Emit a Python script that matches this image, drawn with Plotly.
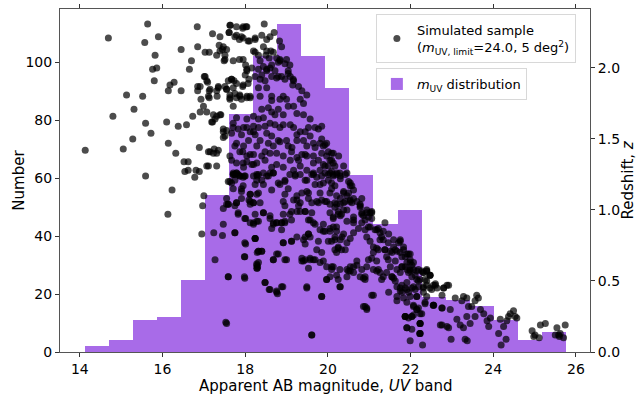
import plotly.graph_objects as go

PURPLE = "#a86be8"
FONT = "DejaVu Sans"

# histogram of apparent UV magnitude (bin edges and counts)
bin_edges = [14.12, 14.70, 15.28, 15.87, 16.45, 17.03, 17.61, 18.19, 18.78, 19.36, 19.94,
             20.52, 21.10, 21.69, 22.27, 22.85, 23.43, 24.01, 24.60, 25.18, 25.76]
bin_counts = [2, 4, 11, 12, 25, 54, 82, 102, 113, 102, 91, 61, 44, 49, 19, 18, 16, 11, 4, 7]

# simulated sample, (magnitude, redshift), estimated by region of the plot
bright_pts = [
    (15.64, 2.31), (14.69, 2.21), (15.57, 2.18), (15.90, 2.22), (16.84, 2.29), (16.45, 2.13),
    (16.85, 2.15), (17.21, 2.24), (17.39, 2.22), (17.64, 2.30), (17.61, 2.25), (17.94, 2.28),
    (18.02, 2.29), (17.79, 2.23), (17.91, 2.22), (18.07, 2.19), (18.24, 2.21), (17.47, 2.15),
    (17.39, 2.12), (17.55, 2.13), (17.31, 2.09), (17.51, 2.06), (17.49, 2.05), (17.03, 2.11),
    (17.13, 2.11), (15.82, 2.09), (16.70, 2.05), (15.76, 1.99), (15.86, 2.00), (16.65, 1.99),
    (15.80, 1.91), (16.18, 1.88), (16.28, 1.90), (16.14, 1.84), (16.45, 1.84), (16.85, 1.87),
    (16.85, 1.84), (17.01, 1.94), (17.09, 1.90), (17.13, 1.84), (17.35, 1.86), (17.13, 1.79),
    (17.32, 1.80), (16.93, 1.78), (17.59, 1.91), (17.67, 1.92), (17.73, 1.91), (17.55, 1.85),
    (17.63, 1.81), (17.75, 1.82), (17.95, 2.06), (18.01, 2.02), (18.04, 1.99), (18.16, 2.00),
    (18.00, 1.95), (18.09, 1.92), (17.95, 1.88), (17.63, 1.78), (17.71, 1.73), (17.91, 1.78),
    (18.04, 1.79), (17.87, 1.81), (18.12, 1.80), (15.13, 1.81), (15.52, 1.80), (15.31, 1.71),
    (14.80, 1.66), (15.59, 1.61), (15.72, 1.54), (15.28, 1.50), (15.05, 1.43), (14.13, 1.42),
    (16.10, 1.62), (16.38, 1.59), (16.58, 1.60), (16.73, 1.66), (16.91, 1.69), (17.21, 1.62),
    (17.31, 1.66), (17.41, 1.67), (17.47, 1.55), (17.55, 1.56), (17.47, 1.51), (16.14, 1.47),
    (16.32, 1.40), (16.89, 1.44), (17.15, 1.41), (17.25, 1.43), (17.31, 1.40), (17.35, 1.42),
    (16.52, 1.34), (16.62, 1.34), (17.11, 1.31), (17.31, 1.31), (16.54, 1.27), (16.62, 1.28),
    (16.81, 1.28), (16.89, 1.27), (15.59, 1.24),
    (17.79, 1.65), (17.71, 1.58), (17.91, 1.53), (18.04, 1.58), (18.20, 1.55), (18.32, 1.58),
    (17.75, 1.45), (17.94, 1.41), (18.04, 1.38), (18.20, 1.39), (17.63, 1.38), (17.79, 1.33),
    (17.95, 1.33), (18.20, 1.32), (17.71, 1.26), (17.83, 1.25), (18.00, 1.24),
]

low_bright_pts = [
    (16.78, 1.23), (16.23, 1.14), (16.13, 0.97), (17.00, 1.10), (16.97, 1.03), (16.95, 0.83),
    (17.24, 0.84), (17.45, 0.82), (17.27, 0.65), (17.59, 0.53), (17.98, 0.53), (17.53, 0.21),
    (17.47, 1.01), (17.47, 0.90), (17.59, 1.20), (17.67, 1.19), (17.71, 1.25), (17.79, 1.26),
    (17.87, 1.24), (17.98, 1.24), (17.75, 1.21), (17.55, 1.04), (17.59, 1.04), (17.75, 1.03),
    (17.79, 1.05), (17.91, 1.08), (17.91, 1.13), (17.95, 1.17), (18.12, 1.11), (18.20, 1.05),
    (18.09, 1.07), (18.28, 1.21), (18.29, 1.24), (17.83, 0.97), (18.01, 0.94), (18.20, 0.90),
    (18.28, 0.92), (17.75, 0.84), (18.01, 0.76), (18.24, 0.80), (17.98, 0.67), (18.29, 0.70),
    (18.28, 0.62), (18.30, 0.60),
]

top_pts = [
    (17.63, 2.30), (17.79, 2.29), (17.95, 2.29), (18.04, 2.29), (18.46, 2.31), (17.61, 2.25),
    (17.75, 2.22), (17.86, 2.20), (17.95, 2.21), (18.10, 2.19), (18.24, 2.20), (18.40, 2.23),
    (18.60, 2.22), (18.52, 2.20), (18.70, 2.25), (17.37, 2.16), (17.45, 2.13), (17.51, 2.09),
    (17.71, 2.05), (17.86, 2.06), (18.20, 2.12), (18.44, 2.15), (18.52, 2.12), (18.62, 2.12),
    (18.68, 2.11), (18.24, 2.11), (18.32, 2.09), (18.50, 2.09), (18.58, 2.07), (18.83, 2.19),
    (18.88, 2.15), (18.84, 2.06), (18.80, 2.04), (19.00, 2.06), (19.08, 2.02), (18.04, 1.98),
    (18.32, 1.99), (18.40, 1.95), (18.52, 1.98), (18.60, 2.00), (18.64, 1.94), (18.76, 1.93),
    (18.88, 1.94), (18.96, 1.92), (19.04, 1.96), (19.16, 1.92), (19.15, 1.88), (17.03, 1.94),
    (17.07, 1.91), (16.91, 1.87), (17.15, 1.85), (17.11, 1.80), (17.31, 1.84), (17.35, 1.87),
    (17.51, 1.87), (17.55, 1.85), (17.67, 1.92), (17.71, 1.86), (17.79, 1.89), (17.94, 1.87),
    (17.87, 1.80), (18.04, 1.80), (18.12, 1.79), (18.07, 1.89), (17.79, 1.79), (17.63, 1.79),
    (16.99, 1.73), (17.07, 1.69), (17.23, 1.67), (17.27, 1.64), (17.19, 1.62), (17.39, 1.67),
    (17.47, 1.57), (17.51, 1.52), (17.11, 1.41), (17.23, 1.40), (17.07, 1.31),
]

peak_pts = [
    (18.36, 2.05), (18.44, 2.01), (18.52, 1.99), (18.64, 2.02), (18.72, 1.98), (18.80, 1.94),
    (18.76, 2.07), (18.84, 2.05), (18.96, 2.03), (19.04, 1.98), (19.09, 1.94), (19.17, 1.91),
    (19.29, 1.87), (19.37, 1.84), (19.49, 1.81), (19.33, 1.78), (19.41, 1.75), (19.00, 1.78),
    (18.92, 1.80), (18.84, 1.78), (18.64, 1.80), (18.64, 1.77), (18.56, 1.72), (18.64, 1.69),
    (18.72, 1.67), (18.80, 1.71), (18.92, 1.67), (19.04, 1.73), (19.17, 1.73), (19.25, 1.68),
    (19.41, 1.67), (19.57, 1.64), (19.69, 1.58), (19.53, 1.58), (19.45, 1.55), (19.33, 1.55),
    (19.25, 1.53), (19.17, 1.58), (19.09, 1.60), (18.92, 1.60), (18.84, 1.58), (18.72, 1.60),
    (18.60, 1.61), (18.44, 1.65), (18.40, 1.71), (18.36, 1.80), (18.32, 1.86), (18.36, 1.92),
    (18.24, 1.94), (18.48, 1.91), (18.52, 1.86), (18.48, 1.59), (18.52, 1.54), (18.64, 1.52),
    (18.56, 1.47), (18.68, 1.45), (18.80, 1.49), (19.00, 1.49), (19.04, 1.45), (19.13, 1.44),
    (19.25, 1.49), (19.41, 1.49), (19.49, 1.45), (19.57, 1.52), (19.65, 1.47), (19.77, 1.57),
    (19.85, 1.59), (19.81, 1.47), (19.89, 1.45), (19.97, 1.47), (19.85, 1.40), (19.97, 1.38),
    (20.09, 1.40), (20.05, 1.35), (20.13, 1.33), (19.89, 1.32), (19.77, 1.35), (19.65, 1.38),
    (19.49, 1.38), (19.37, 1.39), (19.25, 1.37), (19.09, 1.35), (18.92, 1.38), (18.76, 1.40),
    (18.60, 1.40), (18.48, 1.41), (18.40, 1.38), (18.28, 1.33), (18.16, 1.32), (18.04, 1.34),
    (17.96, 1.30), (17.79, 1.26), (17.71, 1.25), (17.67, 1.35), (17.87, 1.41), (17.96, 1.45),
    (18.08, 1.49), (18.12, 1.55), (18.20, 1.59), (18.32, 1.64), (18.20, 1.66), (18.04, 1.64),
    (17.96, 1.58), (17.83, 1.57), (17.71, 1.61), (17.67, 1.54), (17.79, 1.47), (18.28, 1.45),
    (18.36, 1.49), (18.76, 1.32), (18.92, 1.30), (18.60, 1.26), (19.33, 1.31), (19.49, 1.28),
    (19.65, 1.26), (19.81, 1.28), (19.93, 1.26), (20.01, 1.31), (20.22, 1.26), (20.30, 1.24),
    (20.46, 1.26), (20.38, 1.31), (20.26, 1.38),
    (19.85, 1.50), (19.93, 1.46), (20.01, 1.41), (19.69, 1.44), (19.45, 1.39), (19.29, 1.35),
    (19.12, 1.41), (18.84, 1.48), (18.24, 1.53), (18.12, 1.39), (18.48, 1.35), (18.64, 1.30),
    (19.17, 1.28), (19.65, 1.33), (19.93, 1.31), (20.09, 1.27),
]

mid_pts = [
    (17.63, 1.20), (17.75, 1.25), (17.87, 1.24), (17.95, 1.23), (17.71, 1.15), (17.91, 1.15),
    (18.12, 1.11), (18.32, 1.12), (18.28, 1.25), (18.40, 1.21), (18.52, 1.24), (18.68, 1.26),
    (18.84, 1.18), (18.96, 1.21), (19.04, 1.15), (19.21, 1.25), (19.25, 1.07), (19.29, 1.03),
    (19.49, 1.21), (19.53, 1.12), (19.65, 1.25), (19.69, 1.18), (19.81, 1.12), (19.93, 1.06),
    (19.85, 1.24), (20.01, 1.21), (20.09, 1.15), (17.55, 1.08), (17.59, 1.04), (17.79, 1.05),
    (17.83, 0.98), (17.99, 0.94), (18.12, 1.04), (18.20, 0.91), (18.32, 0.92), (18.44, 0.98),
    (18.60, 0.96), (18.68, 0.90), (18.76, 0.91), (18.88, 0.91), (18.96, 0.91), (18.92, 0.97),
    (18.96, 1.03), (19.12, 0.99), (19.33, 0.99), (19.45, 0.99), (19.61, 0.98), (19.53, 0.93),
    (19.65, 0.91), (19.77, 1.05), (19.89, 0.90), (19.93, 0.85), (20.05, 0.85), (19.53, 0.83),
    (19.45, 0.76), (19.25, 0.81), (19.12, 0.78), (18.92, 0.77), (18.80, 0.69), (19.00, 0.65),
    (18.68, 0.65), (18.32, 0.71), (18.40, 0.71), (18.24, 0.80), (17.99, 0.77), (17.75, 0.84),
    (17.99, 0.67), (18.32, 0.63), (18.28, 0.59), (17.59, 0.53), (17.99, 0.52), (18.48, 0.49),
    (18.60, 0.44), (18.76, 0.42), (18.88, 0.46), (19.49, 0.46), (19.85, 0.39), (19.97, 0.51),
    (19.69, 0.65), (19.57, 0.66), (19.45, 0.65), (19.37, 0.64), (19.89, 0.64), (20.09, 0.60),
    (20.09, 0.78), (20.17, 0.72), (17.55, 0.20), (19.61, 0.12),
]

faint_pts = [
    (18.20, 1.24), (18.32, 1.25), (18.44, 1.26), (18.56, 1.24), (18.68, 1.26), (18.24, 1.18),
    (18.44, 1.18), (18.64, 1.14), (18.28, 1.11), (18.12, 1.06), (18.20, 1.05), (18.36, 1.05),
    (18.44, 0.98), (18.24, 0.97), (18.12, 0.91), (18.60, 0.94), (18.68, 0.91), (18.76, 0.91),
    (18.88, 0.91), (18.96, 0.92), (18.64, 0.87), (18.88, 0.86), (18.24, 0.80), (18.92, 0.77),
    (19.12, 0.78), (18.32, 0.71), (18.40, 0.71), (18.76, 0.69), (18.68, 0.65), (18.96, 0.65),
    (18.28, 0.61), (18.29, 0.59), (18.48, 0.49), (18.58, 0.44), (18.76, 0.43), (18.78, 0.41),
    (18.91, 0.46), (18.96, 1.11), (18.92, 1.06), (18.80, 1.19), (18.96, 1.20), (19.08, 1.25),
    (19.21, 1.24), (19.33, 1.25), (19.45, 1.21), (19.61, 1.25), (19.73, 1.23), (19.81, 1.18),
    (19.89, 1.19), (20.01, 1.25), (20.13, 1.25), (20.29, 1.26), (20.42, 1.25), (20.54, 1.19),
    (20.62, 1.14), (20.50, 1.12), (20.38, 1.13), (20.30, 1.08), (20.17, 1.05), (20.05, 1.04),
    (19.97, 1.06), (19.85, 1.07), (19.73, 1.06), (19.61, 1.05), (19.53, 1.08), (19.49, 1.13),
    (19.37, 1.12), (19.25, 1.10), (19.17, 1.07), (19.33, 1.05), (19.25, 0.99), (19.08, 0.97),
    (19.12, 0.93), (19.45, 0.99), (19.57, 0.93), (19.69, 0.90), (19.81, 0.86), (19.89, 0.85),
    (20.05, 0.87), (20.21, 0.88), (20.13, 0.94), (20.25, 0.99), (20.33, 0.97), (20.46, 1.00),
    (20.58, 1.05), (20.70, 1.06), (20.78, 1.03), (20.82, 0.98), (20.90, 0.93), (21.02, 0.98),
    (21.06, 0.94), (20.98, 0.88), (20.90, 0.86), (20.74, 0.87), (20.62, 0.84), (20.54, 0.80),
    (20.38, 0.83), (20.30, 0.79), (20.17, 0.81), (20.01, 0.78), (20.25, 0.73), (20.33, 0.72),
    (20.21, 0.70), (19.85, 0.70), (19.73, 0.72), (19.77, 0.78), (19.57, 0.81), (19.45, 0.81),
    (19.53, 0.83), (19.41, 0.79), (19.65, 0.65), (19.57, 0.65), (19.41, 0.64), (19.37, 0.66),
    (19.53, 0.59), (19.81, 0.63), (19.97, 0.60), (20.13, 0.60), (20.29, 0.58), (20.50, 0.57),
    (20.54, 0.60), (20.70, 0.61), (20.82, 0.58), (20.90, 0.53), (20.62, 0.56), (20.46, 0.53),
    (20.25, 0.51), (20.05, 0.53), (20.09, 0.58), (20.86, 0.52), (20.94, 0.60), (21.06, 0.66),
    (21.18, 0.64), (21.22, 0.58), (21.30, 0.51), (21.42, 0.56), (21.55, 0.53), (21.67, 0.58),
    (21.75, 0.56), (21.79, 0.60), (21.91, 0.63), (21.99, 0.58), (22.03, 0.53), (21.91, 0.49),
    (21.87, 0.45), (21.75, 0.43), (21.67, 0.46), (21.59, 0.52), (21.51, 0.60), (21.42, 0.67),
    (21.51, 0.71), (21.63, 0.72), (21.71, 0.77), (21.59, 0.79), (21.47, 0.83), (21.34, 0.85),
    (21.26, 0.79), (21.18, 0.73), (21.10, 0.74), (21.02, 0.78), (20.94, 0.81), (21.14, 0.86),
    (21.22, 0.87), (21.38, 0.91), (21.30, 0.81), (21.38, 0.72), (21.83, 0.72), (21.99, 0.69),
    (22.07, 0.63), (22.15, 0.57), (22.23, 0.51), (22.31, 0.56), (22.39, 0.58), (22.47, 0.54),
    (22.55, 0.47), (22.64, 0.45), (22.80, 0.45), (22.88, 0.47), (22.31, 0.45), (22.39, 0.39),
    (22.15, 0.39), (22.19, 0.46), (22.35, 0.34), (22.55, 0.33), (22.76, 0.31), (22.15, 0.30),
    (22.07, 0.26), (21.95, 0.24), (21.87, 0.25), (22.23, 0.20), (22.03, 0.16), (22.23, 0.13),
    (22.72, 0.19), (22.88, 0.18), (21.47, 0.42), (21.67, 0.36), (21.10, 0.40), (20.90, 0.32),
    (20.94, 0.30), (20.29, 0.46), (19.97, 0.51), (19.49, 0.45), (19.85, 0.39), (19.61, 0.12),
    (21.67, 0.39), (21.79, 0.42),
]

band_pts = [
    (20.21, 1.04), (20.38, 1.05), (20.54, 1.06), (20.78, 1.04), (20.94, 1.00), (21.06, 0.98),
    (20.86, 0.96), (20.62, 0.93), (20.46, 0.92), (20.30, 0.96), (20.13, 0.88), (20.21, 0.85),
    (20.34, 0.81), (20.46, 0.77), (20.25, 0.74), (20.17, 0.79), (20.42, 0.72), (20.62, 0.91),
    (20.82, 0.91), (21.02, 0.88), (21.18, 0.86), (21.26, 0.84), (21.34, 0.79), (21.46, 0.77),
    (21.59, 0.74), (21.67, 0.71), (21.75, 0.78), (21.55, 0.70), (21.38, 0.72), (21.22, 0.72),
    (21.10, 0.70), (20.98, 0.65), (21.46, 0.65), (21.63, 0.64), (21.79, 0.67), (21.91, 0.69),
    (21.99, 0.63), (21.87, 0.60), (21.99, 0.57), (22.11, 0.54), (22.19, 0.50), (22.27, 0.57),
    (22.39, 0.57), (22.47, 0.54), (22.39, 0.50), (22.31, 0.46), (22.47, 0.45), (22.60, 0.47),
    (21.18, 0.57), (21.26, 0.56), (21.34, 0.53), (21.55, 0.53), (21.63, 0.50), (21.75, 0.45),
    (21.79, 0.47), (21.91, 0.44), (22.03, 0.45), (22.11, 0.44), (22.15, 0.39), (21.99, 0.39),
    (21.91, 0.35), (22.07, 0.32), (22.15, 0.30), (22.23, 0.27), (21.87, 0.25), (22.03, 0.25),
    (21.91, 0.17), (22.23, 0.20), (22.23, 0.13), (22.55, 0.33), (20.70, 0.64), (20.62, 0.60),
    (20.54, 0.57), (20.46, 0.58), (20.21, 0.54), (20.30, 0.46), (20.78, 0.53), (20.90, 0.51),
    (20.86, 0.32), (20.94, 0.31), (21.06, 0.40), (21.10, 0.58),
    (20.13, 1.40), (20.09, 1.35), (20.17, 1.31), (20.05, 1.26), (20.13, 1.24), (20.21, 1.25),
    (20.30, 1.22), (20.09, 1.19), (20.17, 1.17), (20.05, 1.12), (20.21, 1.10), (20.38, 1.12),
    (20.46, 1.10), (20.54, 1.17), (20.50, 1.20), (20.58, 1.17), (20.42, 1.06), (20.54, 1.07),
    (20.62, 1.08), (20.82, 1.08), (20.78, 1.02), (20.17, 1.02), (20.30, 1.04), (20.38, 1.00),
    (20.05, 0.98), (20.13, 0.95), (20.25, 0.97), (20.82, 0.97), (20.94, 0.98), (21.06, 0.99),
    (20.98, 0.95), (20.62, 0.95),
]

tail_pts = [
    (21.75, 0.79), (21.83, 0.74), (21.75, 0.70), (21.87, 0.67), (21.95, 0.69), (21.99, 0.65),
    (22.03, 0.61), (21.79, 0.60), (21.91, 0.58), (21.95, 0.56), (22.07, 0.58), (22.15, 0.51),
    (22.07, 0.46), (21.95, 0.42), (21.83, 0.38), (22.07, 0.33), (22.19, 0.31), (22.27, 0.27),
    (21.87, 0.25), (22.03, 0.25), (21.91, 0.17), (22.23, 0.20), (22.22, 0.13), (22.19, 0.58),
    (22.31, 0.56), (22.35, 0.51), (22.39, 0.57), (22.47, 0.54), (22.39, 0.47), (22.51, 0.44),
    (22.60, 0.48), (22.31, 0.42), (22.35, 0.35), (22.56, 0.33), (22.76, 0.31), (22.80, 0.45),
    (22.92, 0.47), (22.76, 0.40), (23.08, 0.38), (23.24, 0.36), (23.28, 0.39), (23.36, 0.38),
    (23.40, 0.32), (23.48, 0.32), (23.56, 0.36), (23.60, 0.40), (23.64, 0.38), (23.69, 0.30),
    (23.77, 0.27), (23.56, 0.25), (23.36, 0.25), (23.12, 0.23), (23.20, 0.19), (23.28, 0.17),
    (23.44, 0.20), (22.96, 0.30), (22.76, 0.19), (22.92, 0.17), (23.85, 0.22), (23.93, 0.24),
    (23.89, 0.18), (24.13, 0.13), (24.17, 0.23), (24.25, 0.18), (24.33, 0.22), (24.41, 0.27),
    (24.49, 0.29), (24.53, 0.25), (24.57, 0.24), (24.37, 0.25), (24.94, 0.15), (24.98, 0.11),
    (25.14, 0.19), (25.26, 0.20), (25.54, 0.17), (25.62, 0.13), (25.74, 0.19), (25.50, 0.12),
    (25.58, 0.12),
    (21.99, 0.08), (22.29, 0.05), (22.98, 0.09), (23.37, 0.08), (23.32, 0.09), (24.19, 0.05),
    (24.31, 0.09), (25.01, 0.12), (25.11, 0.10), (25.60, 0.11), (25.70, 0.10),
]

all_pts = bright_pts + low_bright_pts + top_pts + peak_pts + mid_pts + faint_pts + band_pts + tail_pts
sample_mag = [p[0] for p in all_pts]
sample_z = [p[1] for p in all_pts]

bin_centers = [(a + b) / 2 for a, b in zip(bin_edges[:-1], bin_edges[1:])]
bin_widths = [b - a for a, b in zip(bin_edges[:-1], bin_edges[1:])]

fig = go.Figure()
fig.add_trace(go.Bar(
    x=bin_centers, y=bin_counts, width=bin_widths,
    marker=dict(color=PURPLE, line_width=0),
    name="<i>m</i><sub>UV</sub> distribution",
    legend="legend2", yaxis="y", showlegend=True,
))
fig.add_trace(go.Scatter(
    x=sample_mag, y=sample_z, mode="markers",
    marker=dict(color="black", size=7, opacity=0.7, line_width=0),
    name="Simulated sample<br>(<i>m</i><sub>UV, limit</sub>=24.0, 5 deg<sup>2</sup>)",
    legend="legend", yaxis="y2", showlegend=True,
))

axis_common = dict(
    showline=True, linecolor="#555", linewidth=1, ticks="outside", ticklen=4,
    tickcolor="#333", showgrid=False, zeroline=False, automargin=False,
    tickfont=dict(size=14, color="black"),
)

fig.update_layout(
    width=636, height=394,
    margin=dict(l=60, r=46, t=9, b=42, autoexpand=False),
    paper_bgcolor="white", plot_bgcolor="white",
    font=dict(family=FONT, color="black"),
    bargap=0,
    showlegend=True,
    xaxis=dict(range=[13.52, 26.34], tickvals=[14, 16, 18, 20, 22, 24, 26], mirror="ticks",
               **axis_common),
    yaxis=dict(range=[0, 118.3], tickvals=[0, 20, 40, 60, 80, 100], **axis_common),
    yaxis2=dict(range=[0, 2.415], tickvals=[0, 0.5, 1.0, 1.5, 2.0], tickformat=".1f",
                overlaying="y", side="right", **axis_common),
    legend=dict(x=0.596, y=0.985, xanchor="left", yanchor="top", bgcolor="white",
                bordercolor="#d8d8d8", borderwidth=1, font=dict(size=13)),
    legend2=dict(x=0.596, y=0.828, xanchor="left", yanchor="top", bgcolor="white",
                 bordercolor="#d8d8d8", borderwidth=1, font=dict(size=13)),
    annotations=[
        dict(text="Apparent AB magnitude, <i>UV</i> band", xref="paper", yref="paper",
             x=0.5, y=-0.098, xanchor="center", yanchor="middle", showarrow=False,
             font=dict(size=15)),
        dict(text="Number", xref="paper", yref="paper", textangle=-90,
             x=-0.079, y=0.5, xanchor="center", yanchor="middle", showarrow=False,
             font=dict(size=15)),
        dict(text="Redshift, <i>z</i>", xref="paper", yref="paper", textangle=-90,
             x=1.07, y=0.5, xanchor="center", yanchor="middle", showarrow=False,
             font=dict(size=15)),
    ],
)

# drop the default page margin so the 636x394 figure fills the window exactly
fig.write_html("out.html", config={"displayModeBar": False},
               post_script="document.body.style.margin = '0';")
